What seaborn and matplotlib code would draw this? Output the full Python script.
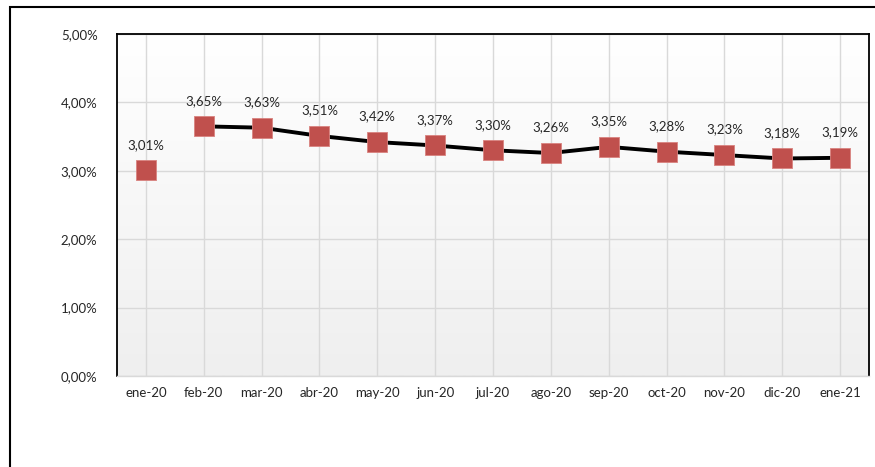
import numpy as np
import pandas as pd
import matplotlib
matplotlib.use('Agg')
import matplotlib.pyplot as plt
import matplotlib.patches as patches
from matplotlib.ticker import FuncFormatter
import seaborn as sns

meses = ['ene-20', 'feb-20', 'mar-20', 'abr-20', 'may-20', 'jun-20', 'jul-20',
         'ago-20', 'sep-20', 'oct-20', 'nov-20', 'dic-20', 'ene-21']
tasa = [3.01, 3.65, 3.63, 3.51, 3.42, 3.37, 3.30, 3.26, 3.35, 3.28, 3.23, 3.18, 3.19]
y_ticks = [0, 1, 2, 3, 4, 5]

sns.set_style('white')
plt.rcParams['font.family'] = ['Lato', 'DejaVu Sans']

df = pd.DataFrame({'mes': meses, 'pos': range(len(meses)), 'tasa': np.array(tasa) / 100})

fig = plt.figure(figsize=(8.75, 4.67), dpi=100)
ax = fig.add_axes([117 / 875, 91 / 467, 752 / 875, 342 / 467])

# gradient background
grad = np.linspace(0, 1, 256).reshape(-1, 1)
ax.imshow(grad, extent=[0, 1, 0, 1], transform=ax.transAxes, aspect='auto',
          cmap=matplotlib.colors.LinearSegmentedColormap.from_list('g', ['#ffffff', '#efefef']),
          zorder=0)

# line only from feb-20 onward
sns.lineplot(data=df.iloc[1:], x='pos', y='tasa', color='black', linewidth=2.8,
             ax=ax, zorder=3)
sns.scatterplot(data=df, x='pos', y='tasa', marker='s', s=190, color='#C0504D',
                edgecolor='#D98380', linewidth=0.6, ax=ax, zorder=4)

for p, v in zip(df['pos'], df['tasa']):
    ax.annotate(f'{v * 100:.2f}%'.replace('.', ','), (p, v), xytext=(0, 14),
                textcoords='offset points', ha='center', va='bottom', fontsize=9.5,
                color='#262626', zorder=5)

ax.set_xlim(-0.5, len(meses) - 0.5)
ax.set_ylim(0, 0.05)
ax.set_xticks(df['pos'])
ax.set_xticklabels(meses)
ax.set_yticks([t / 100 for t in y_ticks])
ax.yaxis.set_major_formatter(FuncFormatter(lambda v, _: f'{v * 100:.2f}%'.replace('.', ',')))
ax.tick_params(axis='both', length=0, labelsize=9.5, labelcolor='#262626')
ax.tick_params(axis='y', pad=14)
ax.tick_params(axis='x', pad=8)
ax.set_xlabel('')
ax.set_ylabel('')

ax.grid(True, color='#d9d9d9', linewidth=1)
ax.set_axisbelow(True)
for side in ['left', 'top', 'right']:
    ax.spines[side].set_color('black')
    ax.spines[side].set_linewidth(1.3)
ax.spines['bottom'].set_color('#d9d9d9')
ax.spines['bottom'].set_linewidth(1)

# outer chart frame
frame = patches.Rectangle((10 / 875, -0.1), 1.1, (460 / 467) + 0.1,
                          transform=fig.transFigure, fill=False,
                          edgecolor='black', linewidth=1.5, clip_on=False)
fig.add_artist(frame)

fig.savefig('out.png', dpi=100)
